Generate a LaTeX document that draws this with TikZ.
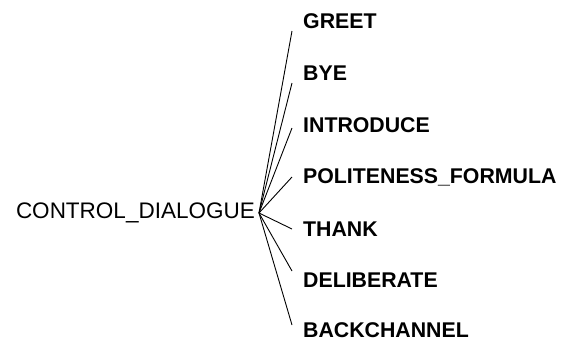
\documentclass[tikz,border=0pt]{standalone}
\usepackage{fontspec}
\setmainfont{Liberation Sans}
\begin{document}
\begin{tikzpicture}[x=1pt,y=-1pt]
\tikzset{act/.style={anchor=west,inner xsep=11pt,inner ysep=0pt,font=\fontsize{21.3}{24}\selectfont\bfseries},
         parent/.style={anchor=east,inner xsep=4pt,inner ysep=0pt,font=\fontsize{22.5}{26}\selectfont},
         branch/.style={line width=0.9pt}}
\useasboundingbox (0,0) rectangle (566,343);

% the parent act
\node[parent] (cd) at (259,213) {CONTROL\_DIALOGUE};

% the acts under it: name / text / row / where the branch meets it
\foreach \n/\t/\y/\dy in {greet/GREET/21/-10, bye/BYE/73/-10, intro/INTRODUCE/125/-3,
    polite/POLITENESS\_FORMULA/177/0, thank/THANK/229/0, delib/DELIBERATE/280/9, back/BACKCHANNEL/330/5}
{
    \node[act] (\n) at (292,\y) {\t};
    \draw[branch] (cd.east) -- ([yshift=\dy pt]\n.west);
}
\end{tikzpicture}
\end{document}
